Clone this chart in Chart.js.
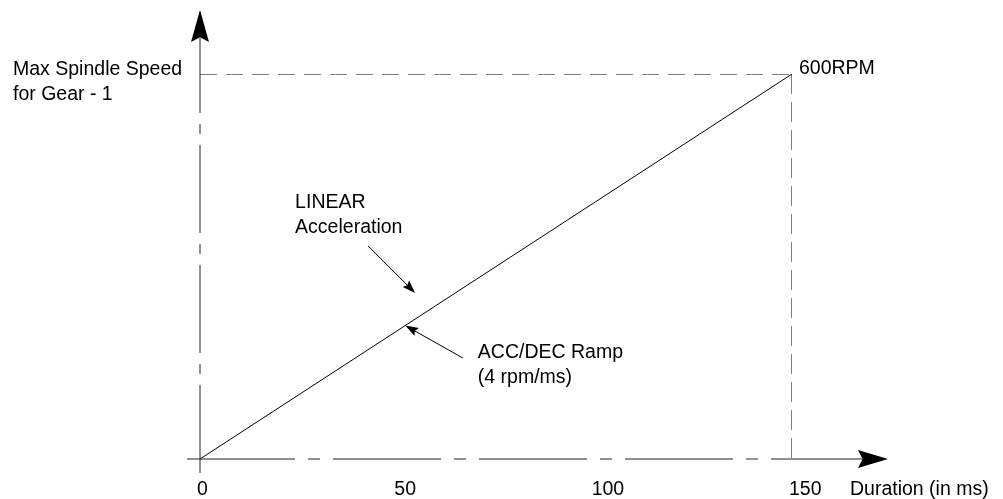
<!DOCTYPE html>
<html>
<head>
<meta charset="utf-8">
<title>Spindle acceleration ramp</title>
<script src="https://cdn.jsdelivr.net/npm/chart.js@4.4.1/dist/chart.umd.min.js"></script>
<style>
  html, body { margin: 0; padding: 0; background: #fff; }
  #wrap { width: 1003px; height: 499px; }
</style>
</head>
<body>
<div id="wrap"><canvas id="myChart"></canvas></div>
<script>
// ramp data (time in ms, speed in rpm)
const rampTimes = [0, 150];
const rampSpeeds = [0, 600];
const maxSpeed = 600;
const rampEnd = 150;
const timeTicks = [0, 50, 100, 150];

const speedLabel = ['Max Spindle Speed', 'for Gear - 1'];
const timeLabel = 'Duration (in ms)';
const topLabel = '600RPM';

// callouts, in data units: text anchor, arrow tail, arrow tip
const notes = [
  { text: ['LINEAR', 'Acceleration'], at: [24.1, 391], from: [42.6, 332], to: [54.5, 258.7] },
  { text: ['ACC/DEC Ramp', '(4 rpm/ms)'], at: [70.4, 157.4], from: [66.6, 157.4], to: [52, 208] },
];

const FONT = '19.5px "Liberation Sans", Arial, sans-serif';
const chart = document.getElementById('myChart');

const drawHead = (ctx, x, y, ang, len, half) => {
  ctx.save();
  ctx.translate(x, y);
  ctx.rotate(ang);
  ctx.beginPath();
  ctx.moveTo(0, 0);
  ctx.lineTo(-len, -half);
  ctx.lineTo(-len * 0.85, 0);
  ctx.lineTo(-len, half);
  ctx.closePath();
  ctx.fill();
  ctx.restore();
};

const drawArrow = (ctx, x1, y1, x2, y2) => {
  const ang = Math.atan2(y2 - y1, x2 - x1);
  ctx.beginPath();
  ctx.moveTo(x1, y1);
  ctx.lineTo(x2 - Math.cos(ang) * 8, y2 - Math.sin(ang) * 8);
  ctx.stroke();
  drawHead(ctx, x2, y2, ang, 13, 4.5);
};

const axesPlugin = {
  id: 'axes',
  beforeDatasetsDraw(c) {
    const { ctx, chartArea, scales: { x, y } } = c;
    const x0 = x.getPixelForValue(0);
    const y0 = y.getPixelForValue(0);
    const yTip = chartArea.top - 64;
    const xTip = x.right + 96;
    ctx.save();
    ctx.strokeStyle = '#222';
    ctx.fillStyle = '#000';
    ctx.lineWidth = 1;
    // vertical axis, dash-dot, from the bottom up
    ctx.setLineDash([88, 11, 10, 11]);
    ctx.beginPath();
    ctx.moveTo(x0, y0 + 14);
    ctx.lineTo(x0, yTip + 28);
    ctx.stroke();
    // horizontal axis
    ctx.setLineDash([108, 13, 12, 13]);
    ctx.beginPath();
    ctx.moveTo(x0 - 13, y0);
    ctx.lineTo(xTip - 26, y0);
    ctx.stroke();
    ctx.setLineDash([]);
    drawHead(ctx, x0, yTip, -Math.PI / 2, 32, 9);
    drawHead(ctx, xTip, y0, 0, 30, 9);
    ctx.restore();
  },
  afterDraw(c) {
    const { ctx, scales: { x, y } } = c;
    ctx.save();
    ctx.font = FONT;
    ctx.fillStyle = '#000';
    ctx.strokeStyle = '#000';
    ctx.lineWidth = 1;
    ctx.textAlign = 'left';
    ctx.textBaseline = 'alphabetic';

    const yTop = y.getPixelForValue(maxSpeed);
    speedLabel.forEach((t, i) => ctx.fillText(t, x.getPixelForValue(0) - 187, yTop + 1 + i * 25));
    ctx.fillText(topLabel, x.getPixelForValue(rampEnd) + 7, yTop);

    ctx.textBaseline = 'middle';
    ctx.fillText(timeLabel, x.right + 58, y.bottom + 30.5);

    ctx.textBaseline = 'alphabetic';
    notes.forEach((n) => {
      const tx = x.getPixelForValue(n.at[0]);
      const ty = y.getPixelForValue(n.at[1]);
      n.text.forEach((t, i) => ctx.fillText(t, tx, ty + i * 25));
      drawArrow(ctx,
        x.getPixelForValue(n.from[0]), y.getPixelForValue(n.from[1]),
        x.getPixelForValue(n.to[0]), y.getPixelForValue(n.to[1]));
    });
    ctx.restore();
  },
};

const line = (pts, dash) => ({
  data: pts,
  borderColor: '#000',
  borderWidth: 1,
  borderDash: dash,
  pointRadius: 0,
  fill: false,
  tension: 0,
});

const datasets = [
  line(rampTimes.map((t, i) => ({ x: t, y: rampSpeeds[i] })), []),
  line([{ x: 0, y: maxSpeed }, { x: rampEnd, y: maxSpeed }], [17, 9]),
  line([{ x: rampEnd, y: maxSpeed }, { x: rampEnd, y: 0 }], [20, 8]),
];

new Chart(chart, {
  type: 'line',
  data: { datasets },
  options: {
    responsive: true,
    maintainAspectRatio: false,
    animation: false,
    events: [],
    layout: { padding: { left: 200, right: 211, top: 74, bottom: 0 } },
    plugins: { legend: { display: false }, tooltip: { enabled: false } },
    scales: {
      x: {
        type: 'linear',
        min: 0,
        max: rampEnd,
        afterBuildTicks: (s) => { s.ticks = timeTicks.map((v) => ({ value: v })); },
        afterFit: (s) => { s.height = 40; },
        grid: { display: false, drawTicks: false },
        border: { display: false },
        ticks: {
          align: 'start',
          labelOffset: -3,
          padding: 19,
          color: '#000',
          font: { family: '"Liberation Sans", Arial, sans-serif', size: 19.5 },
          maxRotation: 0,
        },
      },
      y: { type: 'linear', min: 0, max: maxSpeed, display: false },
    },
  },
  plugins: [axesPlugin],
});
</script>
</body>
</html>
